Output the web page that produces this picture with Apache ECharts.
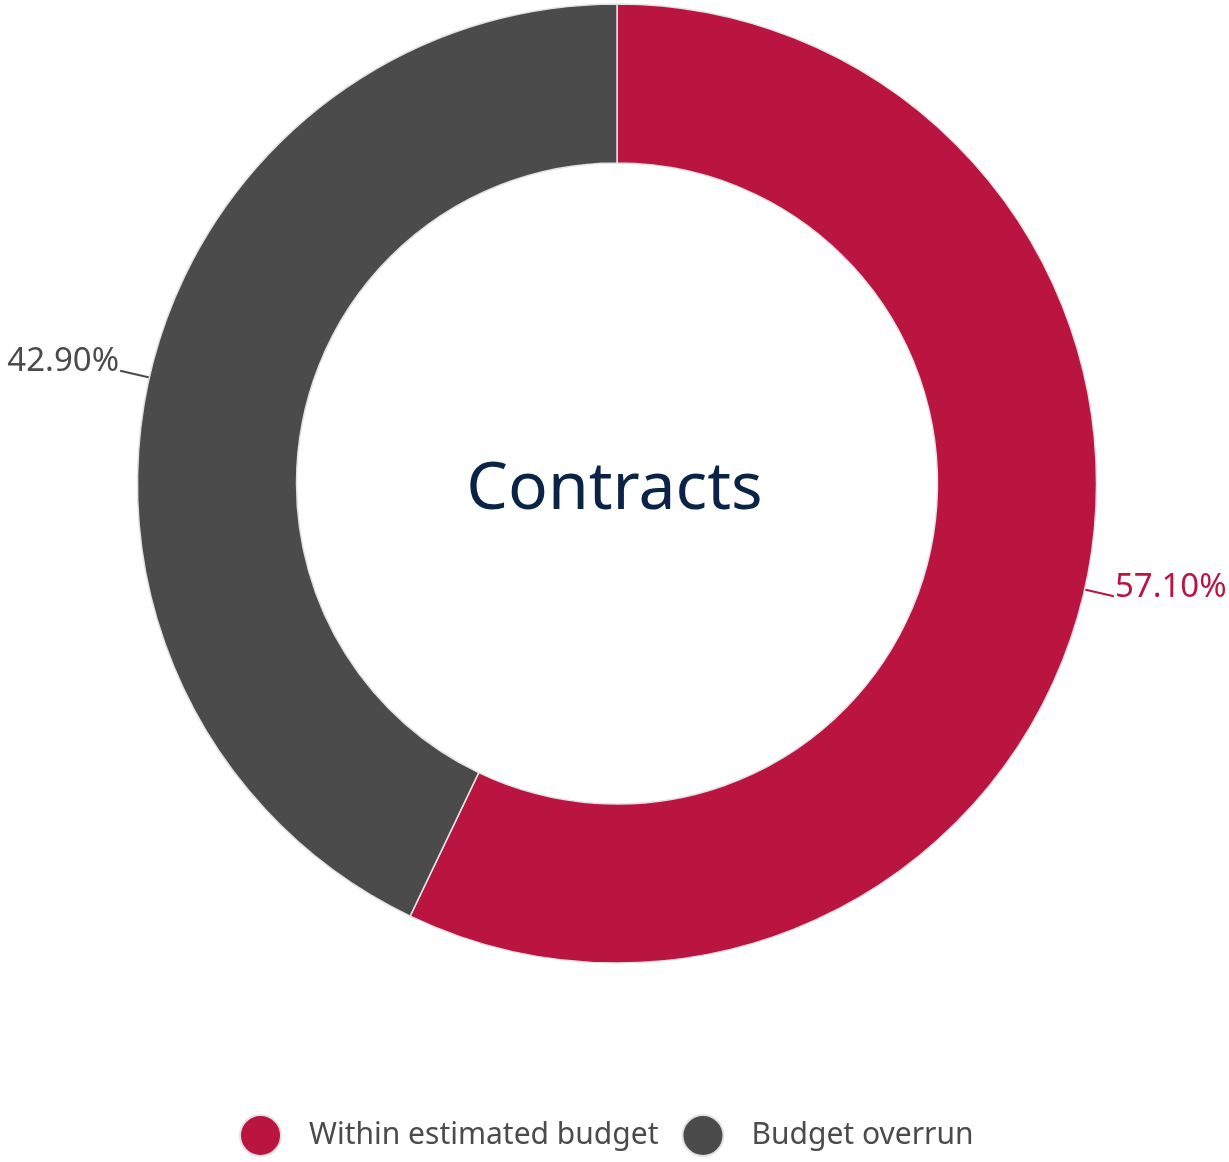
<!DOCTYPE html>
<html>
<head>
<meta charset="utf-8">
<script src="https://cdn.jsdelivr.net/npm/echarts@6/dist/echarts.min.js"></script>
<style>
html, body { margin: 0; padding: 0; background: #fff; }
#demo { width: 1229px; height: 1162px; }
</style>
</head>
<body>
<div id="demo"></div>
<script>
var categories = ['Within estimated budget', 'Budget overrun'];
var shares = [57.1, 42.9];
var colors = ['#BA1441', '#4B4B4B'];
var centerText = 'Contracts';

window.onload = function() {
    var myCharts = echarts.init(document.getElementById('demo'));
    var data = categories.map(function(name, i) {
        return {
            name: name,
            value: shares[i],
            label: { color: colors[i] },
            labelLine: { lineStyle: { color: colors[i] } }
        };
    });
    var option = {
        color: colors,
        animation: false,
        textStyle: { fontFamily: 'Noto Sans' },
        legend: {
            left: 239,
            top: 1114,
            padding: 0,
            icon: 'circle',
            itemWidth: 41,
            itemHeight: 41,
            itemGap: 23,
            textStyle: {
                fontSize: 30,
                color: '#4B4B4B',
                padding: [0, 0, 0, 23]
            },
            data: categories
        },
        graphic: [{
            type: 'text',
            left: 'center',
            top: 457,
            style: {
                text: centerText,
                fontSize: 66,
                fontFamily: 'Noto Sans',
                fill: '#0B2347'
            }
        }],
        series: [{
            type: 'pie',
            center: [617, 483.5],
            radius: [320.5, 479.5],
            startAngle: 90,
            clockwise: true,
            avoidLabelOverlap: false,
            itemStyle: {
                borderColor: '#e2e2e2',
                borderWidth: 1.5
            },
            label: {
                show: true,
                position: 'outside',
                distanceToLabelLine: 1,
                formatter: function(p) {
                    return '{v|' + p.value.toFixed(2) + '%}\n{s|}';
                },
                rich: {
                    v: { fontSize: 33, lineHeight: 36 },
                    s: { fontSize: 10, lineHeight: 18 }
                }
            },
            labelLine: {
                show: true,
                length: 30,
                length2: 0,
                lineStyle: { width: 2 }
            },
            data: data
        }]
    };
    myCharts.setOption(option);
};
</script>
</body>
</html>
